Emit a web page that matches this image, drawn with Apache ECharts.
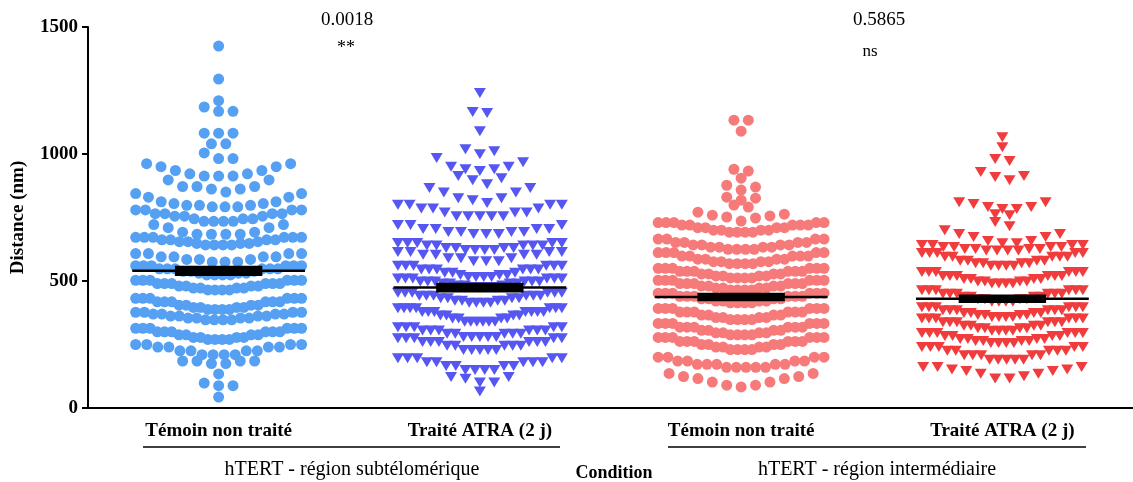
<!DOCTYPE html>
<html>
<head>
<meta charset="utf-8">
<script src="https://cdn.jsdelivr.net/npm/echarts@6/dist/echarts.min.js"></script>
<style>html,body{margin:0;padding:0;background:#fff}#c{width:1133px;height:482px}</style>
</head>
<body>
<div id="c"></div>
<script>
// ---- data ----
const categories = ['Témoin non traité', 'Traité ATRA (2 j)', 'Témoin non traité', 'Traité ATRA (2 j)'];
const groupLabels = ['hTERT - région subtélomérique', 'hTERT - région intermédiaire'];
const pValues = ['0.0018', '0.5865'];
const significance = ['**', 'ns'];
const yTicks = [0, 500, 1000, 1500];
const means = [540, 474, 437, 430];
const sems = [14, 13, 11, 11];

// Each group: list of horizontal bands of the dot plot; each band lists [value (nm), count] levels.
const bandsTemoinSubtelo = [
  [[1425,1]], [[1295,1]], [[1210,1]], [[1168,2],[1185,1]], [[1082,3]], [[1040,2]], [[982,2],[1004,1]],
  [[913,3],[922,2],[935,2],[950,2],[962,2]],
  [[850,1],[862,2],[872,3],[898,2]],
  [[792,3],[798,3],[805,2],[812,2],[830,2],[844,2]],
  [[735,4],[745,3],[755,3],[765,4],[780,4]],
  [[684,4],[692,2],[710,2],[722,2]],
  [[642,4],[648,3],[655,3],[662,4],[672,6]],
  [[575,3],[585,3],[595,4],[608,4]],
  [[524,4],[531,3],[538,3],[548,6],[560,6]],
  [[465,4],[472,4],[480,4],[490,6],[503,6]],
  [[388,4],[396,4],[405,4],[418,6],[432,6]],
  [[347,4],[354,4],[362,4],[370,4],[377,4]],
  [[270,4],[278,4],[288,4],[300,6],[314,6]],
  [[210,4],[225,4],[240,4],[250,4]],
  [[175,2],[185,4]],
  [[134,1]], [[88,2],[98,1]], [[43,1]]
];
const bandsATRASubtelo = [
  [[1240,1]], [[1161,1],[1165,1]], [[1090,1]], [[999,1],[1011,1],[1019,1]],
  [[933,1],[940,2],[950,2],[968,1],[984,1]],
  [[881,1],[897,1],[905,1],[913,1]],
  [[807,1],[818,1],[826,2],[848,2],[866,2]],
  [[755,5],[770,3],[785,3],[800,4]],
  [[685,3],[693,4],[705,4],[720,3]],
  [[622,4],[630,4],[640,5],[650,5]],
  [[578,3],[590,3],[603,4],[614,4]],
  [[516,4],[524,3],[532,3],[545,6],[560,6]],
  [[476,4],[482,3],[490,4],[498,6],[510,6]],
  [[414,4],[422,4],[432,4],[442,6],[454,6]],
  [[340,6],[352,4],[364,4],[378,7],[393,7]],
  [[280,5],[292,5],[305,6],[318,5]],
  [[228,5],[245,5],[260,6],[275,5]],
  [[150,4],[165,4],[180,5],[196,5]],
  [[100,2],[115,1],[122,2]], [[65,1]]
];
const bandsTemoinInter = [
  [[1133,2]], [[1090,1]], [[933,1],[940,1]], [[905,1]], [[858,1],[870,1],[877,1]], [[818,1],[826,1],[830,1]], [[791,1],[799,1]],
  [[736,1],[748,1],[752,1],[756,1],[759,1],[763,1],[771,1]],
  [[692,4],[700,4],[710,4],[720,5],[730,5]],
  [[625,4],[633,4],[642,4],[652,4],[665,4]],
  [[568,4],[576,4],[586,4],[598,5],[612,5]],
  [[512,4],[520,4],[528,4],[538,6],[550,6]],
  [[465,4],[472,4],[480,4],[490,6],[503,6]],
  [[414,4],[421,4],[430,4],[440,6],[452,6]],
  [[348,4],[356,4],[366,4],[378,6],[392,6]],
  [[288,4],[296,4],[306,4],[318,6],[333,6]],
  [[230,4],[240,4],[250,4],[262,6],[278,6]],
  [[160,5],[172,5],[185,4],[200,4]],
  [[83,1],[90,2],[102,2],[116,2],[124,2],[136,2]]
];
const bandsATRAInter = [
  [[1066,1]], [[1027,1]], [[972,1],[980,1]], [[897,1],[909,1],[913,1],[929,1]],
  [[783,2],[791,2],[803,1],[810,2]], [[759,1],[763,1]], [[716,1],[732,1]],
  [[649,2],[657,2],[673,2],[685,2],[700,1]],
  [[620,4],[626,4],[634,4],[642,4]],
  [[560,4],[570,4],[580,4],[595,5],[610,5]],
  [[490,4],[498,4],[508,4],[520,6],[535,6]],
  [[418,4],[428,4],[438,4],[450,6],[464,6]],
  [[358,4],[366,4],[374,4],[385,6],[397,6]],
  [[304,4],[314,4],[324,4],[338,6],[352,6]],
  [[256,4],[264,4],[272,4],[283,4],[295,6]],
  [[190,5],[208,5],[225,5],[240,5]],
  [[116,2],[125,1],[135,2],[146,2],[152,2],[161,3]]
];
const groupBands = [bandsTemoinSubtelo, bandsATRASubtelo, bandsTemoinInter, bandsATRAInter];

// ---- styles ----
const colors = ['#55a0f2', '#5656f2', '#f77a7a', '#f03c3c'];
const symbols = ['circle', 'triangle', 'circle', 'triangle'];
const rotations = [0, 180, 0, 180];
const serif = "'Liberation Serif', 'DejaVu Serif', serif";

const chart = echarts.init(document.getElementById('c'));
const gridLeft = 88, gridRight = -7, gridTop = 27, gridBottom = 74;
const catPx = (1133 - gridLeft - gridRight) / categories.length;
const maxSpreadPx = [167, 165, 167, 162], naturalStepPx = 14.5;

// Dot-plot layout: within a band, lowest values sit in the middle, higher values outward.
function layoutGroup(gi) {
  const pts = [];
  groupBands[gi].forEach(band => {
    const vals = [];
    band.forEach(([v, n]) => { for (let k = 0; k < n; k++) vals.push(v); });
    vals.sort((a, b) => a - b);
    const n = vals.length;
    const step = n > 1 ? Math.min(naturalStepPx, maxSpreadPx[gi] / (n - 1)) : 0;
    const offs = [];
    for (let j = 0; j < n; j++) offs.push((j - (n - 1) / 2) * step);
    offs.sort((a, b) => Math.abs(a) - Math.abs(b) || b - a);
    vals.forEach((v, k) => pts.push([gi + offs[k] / catPx, v]));
  });
  return pts;
}

const series = categories.map((c, gi) => ({
  type: 'scatter',
  xAxisIndex: 1,
  data: layoutGroup(gi),
  symbol: symbols[gi],
  symbolRotate: rotations[gi],
  symbolSize: symbols[gi] === 'circle' ? 11 : [12, 10],
  itemStyle: { color: colors[gi], opacity: 1 },
  silent: true,
  z: 2
}));

series.push({
  type: 'custom',
  xAxisIndex: 1,
  data: means.map((m, i) => [i, m, sems[i]]),
  z: 5,
  silent: true,
  renderItem: function (params, api) {
    const x = api.value(0), m = api.value(1), s = api.value(2);
    const halfLine = 87 / catPx, halfBox = 44 / catPx;
    const pL = api.coord([x - halfLine, m]);
    const pR = api.coord([x + halfLine, m]);
    const bTL = api.coord([x - halfBox, m + s]);
    const bBR = api.coord([x + halfBox, m - s]);
    return {
      type: 'group',
      children: [
        { type: 'rect', shape: { x: bTL[0], y: bTL[1] - 1.5, width: bBR[0] - bTL[0], height: bBR[1] - bTL[1] + 3 }, style: { fill: '#000' } },
        { type: 'line', shape: { x1: pL[0], y1: pL[1], x2: pR[0], y2: pR[1] }, style: { stroke: '#000', lineWidth: 2.5 } }
      ]
    };
  }
});

const lineY = 447;
const option = {
  animation: false,
  grid: { left: gridLeft, right: gridRight, top: gridTop, bottom: gridBottom },
  xAxis: [
    {
      type: 'category', data: categories,
      axisLine: { onZero: false, lineStyle: { color: '#000', width: 2 } },
      axisTick: { alignWithLabel: true, length: 6, lineStyle: { color: '#000', width: 2 } },
      axisLabel: { color: '#000', fontFamily: serif, fontWeight: 'bold', fontSize: 19, margin: 14 },
      splitLine: { show: false }
    },
    { type: 'value', min: -0.5, max: 3.5, show: false }
  ],
  yAxis: {
    type: 'value', min: 0, max: 1500, interval: 500,
    name: 'Distance (nm)', nameLocation: 'middle', nameGap: 60,
    nameTextStyle: { color: '#000', fontFamily: serif, fontWeight: 'bold', fontSize: 19 },
    axisLine: { show: true, onZero: false, lineStyle: { color: '#000', width: 2 } },
    axisTick: { show: true, length: 6, lineStyle: { color: '#000', width: 2 } },
    axisLabel: { color: '#000', fontFamily: serif, fontWeight: 'bold', fontSize: 19, margin: 10,
      formatter: v => yTicks.includes(v) ? String(v) : '' },
    splitLine: { show: false }
  },
  graphic: [
    { type: 'line', shape: { x1: 143, y1: lineY, x2: 560, y2: lineY }, style: { stroke: '#000', lineWidth: 1.5 } },
    { type: 'line', shape: { x1: 668, y1: lineY, x2: 1086, y2: lineY }, style: { stroke: '#000', lineWidth: 1.5 } },
    { type: 'text', x: 352, y: 470, style: { text: groupLabels[0], font: "20px " + serif, fill: '#000', textAlign: 'center', textVerticalAlign: 'middle' } },
    { type: 'text', x: 877, y: 470, style: { text: groupLabels[1], font: "20px " + serif, fill: '#000', textAlign: 'center', textVerticalAlign: 'middle' } },
    { type: 'text', x: 614, y: 473, style: { text: 'Condition', font: "bold 18px " + serif, fill: '#000', textAlign: 'center', textVerticalAlign: 'middle' } },
    { type: 'text', x: 347, y: 20, style: { text: pValues[0], font: "19px " + serif, fill: '#000', textAlign: 'center', textVerticalAlign: 'middle' } },
    { type: 'text', x: 346, y: 48, style: { text: significance[0], font: "18px " + serif, fill: '#000', textAlign: 'center', textVerticalAlign: 'middle' } },
    { type: 'text', x: 879, y: 20, style: { text: pValues[1], font: "19px " + serif, fill: '#000', textAlign: 'center', textVerticalAlign: 'middle' } },
    { type: 'text', x: 870, y: 52, style: { text: significance[1], font: "17px " + serif, fill: '#000', textAlign: 'center', textVerticalAlign: 'middle' } }
  ],
  series: series
};
chart.setOption(option);
</script>
</body>
</html>
